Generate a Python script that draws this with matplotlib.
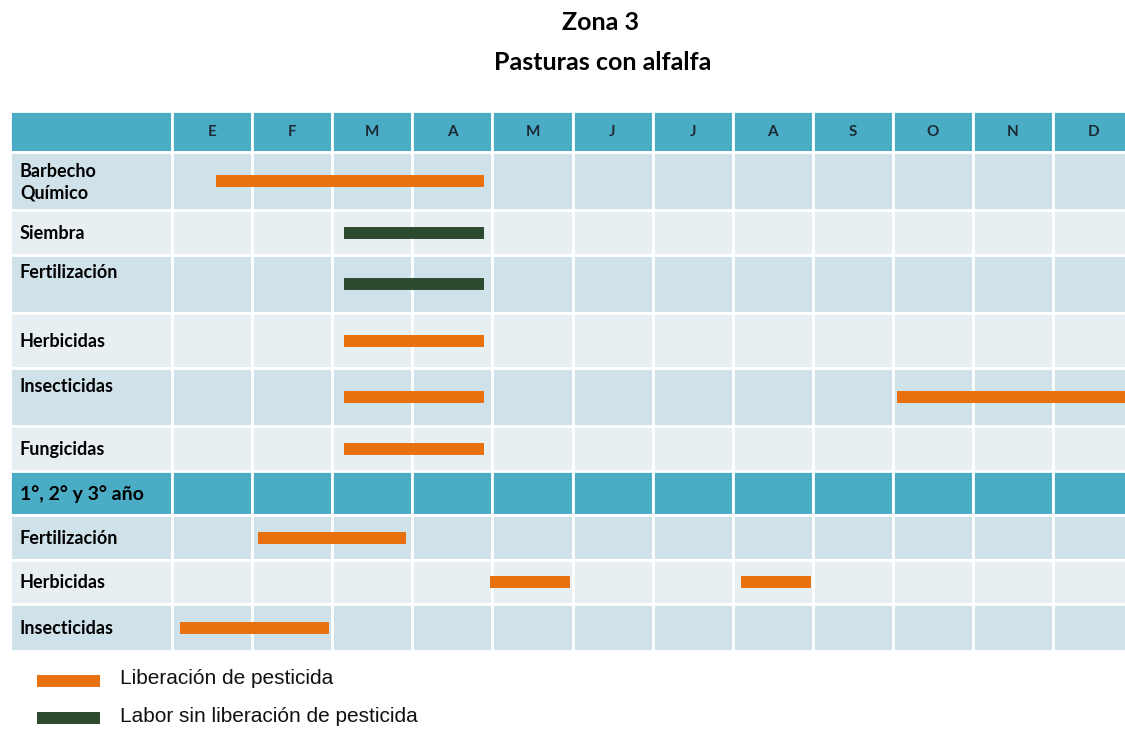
import matplotlib
matplotlib.use('Agg')
import matplotlib.pyplot as plt
from matplotlib.patches import Rectangle
from matplotlib.lines import Line2D

# data
months = ['E', 'F', 'M', 'A', 'M', 'J', 'J', 'A', 'S', 'O', 'N', 'D']
row_labels = ['Barbecho\nQuímico', 'Siembra', 'Fertilización', 'Herbicidas', 'Insecticidas',
              'Fungicidas', '1°, 2° y 3° año', 'Fertilización', 'Herbicidas', 'Insecticidas']
section_row = 6

bar_row = [0, 1, 2, 3, 4, 4, 5, 7, 8, 8, 9]
bar_start = [0.55, 2.15, 2.15, 2.15, 2.15, 9.05, 2.15, 1.07, 3.97, 7.1, 0.1]
bar_end = [3.9, 3.9, 3.9, 3.9, 3.9, 12.0, 3.9, 2.92, 4.97, 7.98, 1.96]
bar_kind = ['pest', 'labor', 'labor', 'pest', 'pest', 'pest', 'pest', 'pest', 'pest', 'pest', 'pest']

legend_labels = ['Liberación de pesticida', 'Labor sin liberación de pesticida']

# layout
edges = [111, 152, 210, 255, 313, 368, 426, 471, 515, 560, 604, 651]
colw = 80.1
x0 = 172
colors = {'pest': '#E8700E', 'labor': '#2C4A30'}
teal = '#4BACC6'
dark = '#D0E2E9'
light = '#E8EFF2'

plt.rcParams['font.family'] = ['Lato', 'DejaVu Sans']

fig = plt.figure(figsize=(11.25, 7.31), dpi=100)
W, H = 1125, 731
left_px = 10
ax = fig.add_axes([left_px / W, 1 - edges[-1] / H, (W - left_px) / W, (edges[-1] - edges[0]) / H])
ax.set_xlim(-(x0 - left_px) / colw, (W - x0) / colw)
ax.set_ylim(edges[-1], edges[0])
ax.axis('off')

lab_x0 = -(x0 - left_px) / colw

# header row
ax.add_patch(Rectangle((lab_x0, edges[0]), -lab_x0, edges[1] - edges[0],
                       facecolor=teal, edgecolor='white', lw=2))
for i, m in enumerate(months):
    ax.add_patch(Rectangle((i, edges[0]), 1, edges[1] - edges[0],
                           facecolor=teal, edgecolor='white', lw=2))
    ax.text(i + 0.5, (edges[0] + edges[1]) / 2, m, ha='center', va='center',
            fontsize=11, fontweight='bold', color='#1c2a33')

# body rows
for r, lab in enumerate(row_labels):
    top, bot = edges[r + 1], edges[r + 2]
    if r == section_row:
        fc = teal
    else:
        k = r if r < section_row else r - section_row - 1
        fc = dark if k % 2 == 0 else light
    ax.add_patch(Rectangle((lab_x0, top), -lab_x0, bot - top, facecolor=fc, edgecolor='white', lw=2))
    for i in range(len(months)):
        ax.add_patch(Rectangle((i, top), 1, bot - top, facecolor=fc, edgecolor='white', lw=2))
    if (bot - top) > 56 and '\n' not in lab:
        ty = top + 18
    else:
        ty = (top + bot) / 2 + 1
    ax.text(lab_x0 + 10 / colw, ty, lab, ha='left', va='center',
            fontsize=14 if r == section_row else 13, fontweight='bold',
            color='black', linespacing=1.3)

# bars
for r, s, e, k in zip(bar_row, bar_start, bar_end, bar_kind):
    y = (edges[r + 1] + edges[r + 2]) / 2
    ax.hlines(y, s, e, colors=colors[k], lw=8.6, capstyle='butt', zorder=3)

# titles
fig.text(601 / W, 1 - 22 / H, 'Zona 3', ha='center', va='center', fontsize=18, fontweight='bold')
fig.text(603 / W, 1 - 62 / H, 'Pasturas con alfalfa', ha='center', va='center', fontsize=18, fontweight='bold')

# legend
for j, (lab, k) in enumerate(zip(legend_labels, ['pest', 'labor'])):
    y = 1 - (681 + 37 * j) / H
    fig.add_artist(Line2D([37 / W, 100 / W], [y, y], color=colors[k], lw=8.6,
                          solid_capstyle='butt'))
    fig.text(120 / W, y + 2 / H, lab, ha='left', va='center', fontsize=15,
             family='Liberation Sans', color='#111111')

fig.savefig('out.png', dpi=100)
